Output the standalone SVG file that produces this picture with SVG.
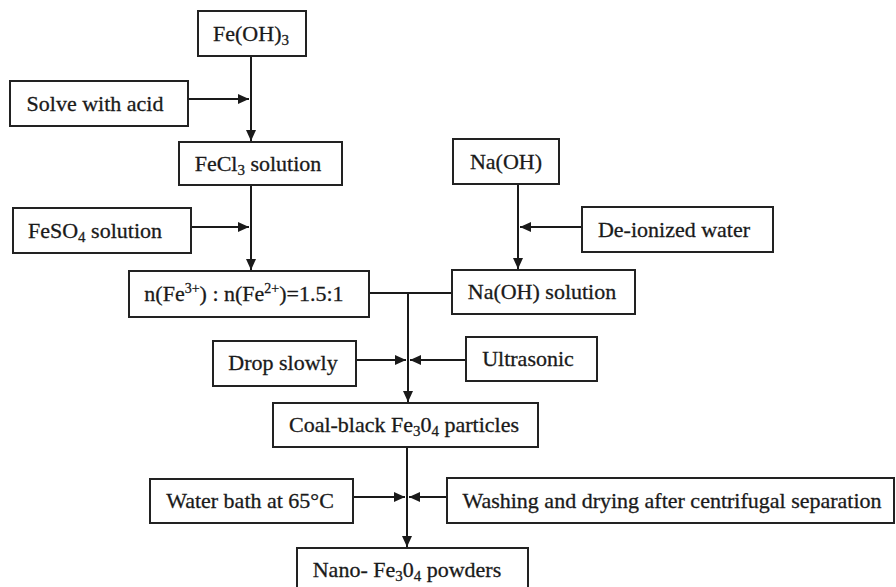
<svg xmlns="http://www.w3.org/2000/svg" width="896" height="587" viewBox="0 0 896 587">
<defs>
<marker id="ah" viewBox="0 0 11 10" refX="11" refY="5" markerWidth="11" markerHeight="10" markerUnits="userSpaceOnUse" orient="auto">
<path d="M0,0 L11,5 L0,10 z" fill="#1a1a1a"/>
</marker>
<style>
rect{fill:#fff;stroke:#222;stroke-width:2}
text{font-family:'Liberation Serif','DejaVu Serif',serif;font-size:22px;fill:#1a1a1a;stroke:#1a1a1a;stroke-width:0.3;text-anchor:middle}
.sub{font-size:15px}
.sup{font-size:14px}
#connectors line{stroke:#1a1a1a;stroke-width:2}
.arr{marker-end:url(#ah)}
</style>
</defs>
<rect x="0" y="0" width="896" height="587" style="fill:#fff;stroke:none"/>
<g id="connectors">
<line class="arr" x1="251" y1="56" x2="251" y2="141"/>
<line class="arr" x1="188" y1="99" x2="249" y2="99"/>
<line class="arr" x1="251" y1="185" x2="251" y2="270"/>
<line class="arr" x1="191" y1="227" x2="249" y2="227"/>
<line class="arr" x1="518" y1="184" x2="518" y2="269"/>
<line class="arr" x1="582" y1="227" x2="520" y2="227"/>
<line x1="370" y1="293" x2="452" y2="293"/>
<line class="arr" x1="408" y1="293" x2="408" y2="402"/>
<line class="arr" x1="356" y1="360" x2="406" y2="360"/>
<line class="arr" x1="466" y1="360" x2="410" y2="360"/>
<line class="arr" x1="407" y1="447" x2="407" y2="547"/>
<line class="arr" x1="353" y1="497" x2="405" y2="497"/>
<line class="arr" x1="447" y1="497" x2="409" y2="497"/>
</g>
<g font-family="Liberation Serif, serif">
<g id="fe_oh3"><rect x="198" y="11" width="108" height="45"/><text x="251" y="41">Fe(OH)<tspan class="sub" dy="4">3</tspan></text></g>
<g id="solve_acid"><rect x="10" y="81" width="178" height="45"/><text x="95" y="111">Solve with acid</text></g>
<g id="fecl3"><rect x="179" y="142" width="163" height="43"/><text x="258" y="171">FeCl<tspan class="sub" dy="4">3</tspan><tspan dy="-4"> solution</tspan></text></g>
<g id="feso4"><rect x="13" y="208" width="178" height="45"/><text x="95" y="238">FeSO<tspan class="sub" dy="4">4</tspan><tspan dy="-4"> solution</tspan></text></g>
<g id="ratio"><rect x="129" y="271" width="240" height="46"/><text x="244" y="301">n(Fe<tspan class="sup" dy="-8">3+</tspan><tspan dy="8">) : n(Fe</tspan><tspan class="sup" dy="-8">2+</tspan><tspan dy="8">)=1.5:1</tspan></text></g>
<g id="naoh"><rect x="453" y="139" width="106" height="45"/><text x="506" y="169">Na(OH)</text></g>
<g id="deionized"><rect x="582" y="207" width="191" height="45"/><text x="674" y="237">De-ionized water</text></g>
<g id="naoh_solution"><rect x="452" y="270" width="183" height="44"/><text x="542" y="299">Na(OH) solution</text></g>
<g id="drop_slowly"><rect x="213" y="341" width="143" height="45"/><text x="283" y="370">Drop slowly</text></g>
<g id="ultrasonic"><rect x="466" y="337" width="131" height="44"/><text x="528" y="366">Ultrasonic</text></g>
<g id="coal_black"><rect x="273" y="403" width="265" height="44"/><text x="404" y="432">Coal-black Fe<tspan class="sub" dy="4">3</tspan><tspan dy="-4">0</tspan><tspan class="sub" dy="4">4</tspan><tspan dy="-4"> particles</tspan></text></g>
<g id="water_bath"><rect x="150" y="479" width="203" height="44"/><text x="250" y="508">Water bath at 65°C</text></g>
<g id="washing"><rect x="447" y="478" width="447" height="45"/><text x="672" y="508">Washing and drying after centrifugal separation</text></g>
<g id="nano"><rect x="297" y="548" width="231" height="50"/><text x="407" y="577">Nano- Fe<tspan class="sub" dy="4">3</tspan><tspan dy="-4">0</tspan><tspan class="sub" dy="4">4</tspan><tspan dy="-4"> powders</tspan></text></g>
</g>
</svg>
